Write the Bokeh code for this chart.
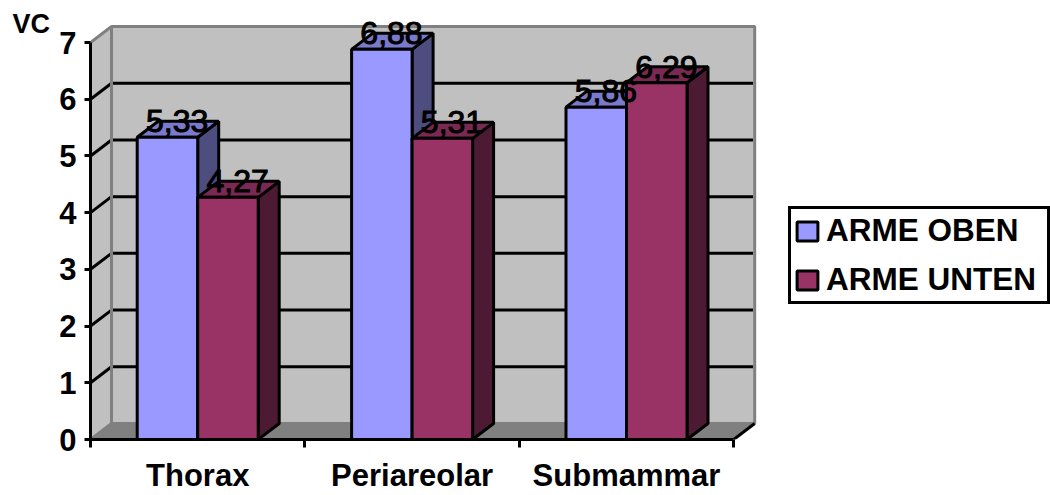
from bokeh.embed import file_html
from bokeh.resources import INLINE
from bokeh.plotting import figure
from bokeh.models import FixedTicker, Label, Legend, LegendItem, Range1d
from bokeh.core.properties import value

# Chart data
categories = ["Thorax", "Periareolar", "Submammar"]
series_names = ["ARME OBEN", "ARME UNTEN"]
arme_oben = [5.33, 6.88, 5.86]
arme_unten = [4.27, 5.31, 6.29]
y_ticks = [0, 1, 2, 3, 4, 5, 6, 7]

FONT = "Liberation Sans"
FRONT = ["#9999ff", "#993366"]
SIDE = ["#4d4d80", "#4d1a33"]
TOP = ["#7a7acc", "#7a2952"]

# Pixel scale of the plot frame and the oblique depth of the 3-D box
PX_X = 214.4
PX_Y = 56.71
FRAME_W = 670
FRAME_H = 419
DX = 21 / PX_X
DY = 16 / PX_Y
BAR_W = 60.5 / PX_X
GAP = (1 - 2 * BAR_W) / 2
N = len(categories)
Y_MAX = y_ticks[-1]
LW = 3

p = figure(
    width=1050, height=495, frame_width=FRAME_W, frame_height=FRAME_H,
    min_border_left=90, min_border_right=28, min_border_top=20, min_border_bottom=56,
    x_range=Range1d(0, FRAME_W / PX_X), y_range=Range1d(0, FRAME_H / PX_Y),
    toolbar_location=None, output_backend="svg",
    background_fill_color="white", border_fill_color="white",
    outline_line_color=None,
)
p.grid.visible = False

# Back wall, side wall and floor of the box
GRAY = "#808080"
p.patch([0, DX, DX, 0], [0, DY, Y_MAX + DY, Y_MAX], fill_color="#c0c0c0", line_color=None)
p.quad(left=DX, right=N + DX, bottom=DY, top=Y_MAX + DY,
       fill_color="#c0c0c0", line_color=GRAY, line_width=LW)
p.patch([0, DX, N + DX, N], [0, DY, DY, 0], fill_color=GRAY, line_color=None)

# Gridlines run along the back wall and down the side wall
inner = [t for t in y_ticks if 0 < t < Y_MAX]
p.segment(x0=[DX] * len(inner), x1=[N + DX - 0.008] * len(inner),
          y0=[t + DY for t in inner], y1=[t + DY for t in inner],
          line_color="black", line_width=LW)
p.segment(x0=[0] * len(inner), x1=[DX] * len(inner),
          y0=inner, y1=[t + DY for t in inner], line_color="black", line_width=LW)
p.segment(x0=[0, 0], x1=[DX, DX], y0=[0, Y_MAX], y1=[DY, Y_MAX + DY],
          line_color=GRAY, line_width=LW)
p.segment(x0=[DX], x1=[DX], y0=[DY], y1=[Y_MAX + DY], line_color=GRAY, line_width=LW)
p.segment(x0=[N], x1=[N + DX], y0=[0], y1=[DY], line_color="black", line_width=LW)

# Oblique bars: side and top faces first, then the front
legend_items = []
for s, vals in enumerate([arme_oben, arme_unten]):
    lefts = [i + GAP + s * BAR_W for i in range(N)]
    rights = [l + BAR_W for l in lefts]
    for l, r, v in zip(lefts, rights, vals):
        p.patch([r, r + DX, r + DX, r], [0, DY, v + DY, v],
                fill_color=SIDE[s], line_color="black", line_width=LW)
        p.patch([l, r, r + DX, l + DX], [v, v, v + DY, v + DY],
                fill_color=TOP[s], line_color="black", line_width=LW)
    front = p.quad(left=lefts, right=rights, bottom=[0] * N, top=vals,
                   fill_color=FRONT[s], line_color="black", line_width=LW)
    legend_items.append(LegendItem(label=series_names[s], renderers=[front]))

# Value labels sit over the top face of each bar
for s, vals in enumerate([arme_oben, arme_unten]):
    xs = [i + GAP + s * BAR_W + BAR_W / 2 + DX / 2 - 0.004 for i in range(N)]
    p.text(x=xs, y=vals, text=[f"{v:.2f}".replace(".", ",") for v in vals],
           text_font=value(FONT), text_font_size="32px", text_color="black",
           text_outline_color="black",
           text_align="center", text_baseline="alphabetic", y_offset=-16)

# Value axis
ya = p.yaxis[0]
ya.ticker = FixedTicker(ticks=y_ticks)
ya.bounds = (0, Y_MAX)
ya.axis_line_color = "black"
ya.axis_line_width = LW
ya.major_tick_line_color = "black"
ya.major_tick_line_width = LW
ya.major_tick_in = 0
ya.major_tick_out = 6
ya.minor_tick_line_color = None
ya.major_label_standoff = 8
ya.major_label_text_font = FONT
ya.major_label_text_font_size = "31px"
ya.major_label_text_font_style = "bold"
ya.major_label_text_color = "black"

# Category axis: labels centred between the separator ticks
xa = p.xaxis[0]
xa.ticker = FixedTicker(ticks=[i + 0.5 for i in range(N)], minor_ticks=list(range(N + 1)))
xa.major_label_overrides = {i + 0.5: c for i, c in enumerate(categories)}
xa.bounds = (0, N)
xa.axis_line_color = "black"
xa.axis_line_width = LW
xa.major_tick_line_color = None
xa.major_tick_in = 0
xa.major_tick_out = 0
xa.minor_tick_line_color = "black"
xa.minor_tick_line_width = LW
xa.minor_tick_in = 0
xa.minor_tick_out = 8
xa.major_label_standoff = 10
xa.major_label_text_font = FONT
xa.major_label_text_font_size = "31px"
xa.major_label_text_font_style = "bold"
xa.major_label_text_color = "black"

# Unit label above the value axis
p.add_layout(Label(x=-6, y=416, x_units="screen", y_units="screen",
                   text="VC", text_font=FONT, text_font_size="27px",
                   text_font_style="bold", text_color="black", text_baseline="middle"), "left")

legend = Legend(items=legend_items, location=(28, 135),
                label_text_font=FONT, label_text_font_size="31.5px",
                label_text_font_style="bold", label_text_color="black",
                glyph_width=26, glyph_height=24, label_standoff=6, label_width=218,
                padding=3, spacing=12, margin=0,
                border_line_color="black", border_line_width=LW, border_line_alpha=1,
                background_fill_color="white", background_fill_alpha=1)
p.add_layout(legend, "right")

open("out.html", "w").write(file_html(p, INLINE))
